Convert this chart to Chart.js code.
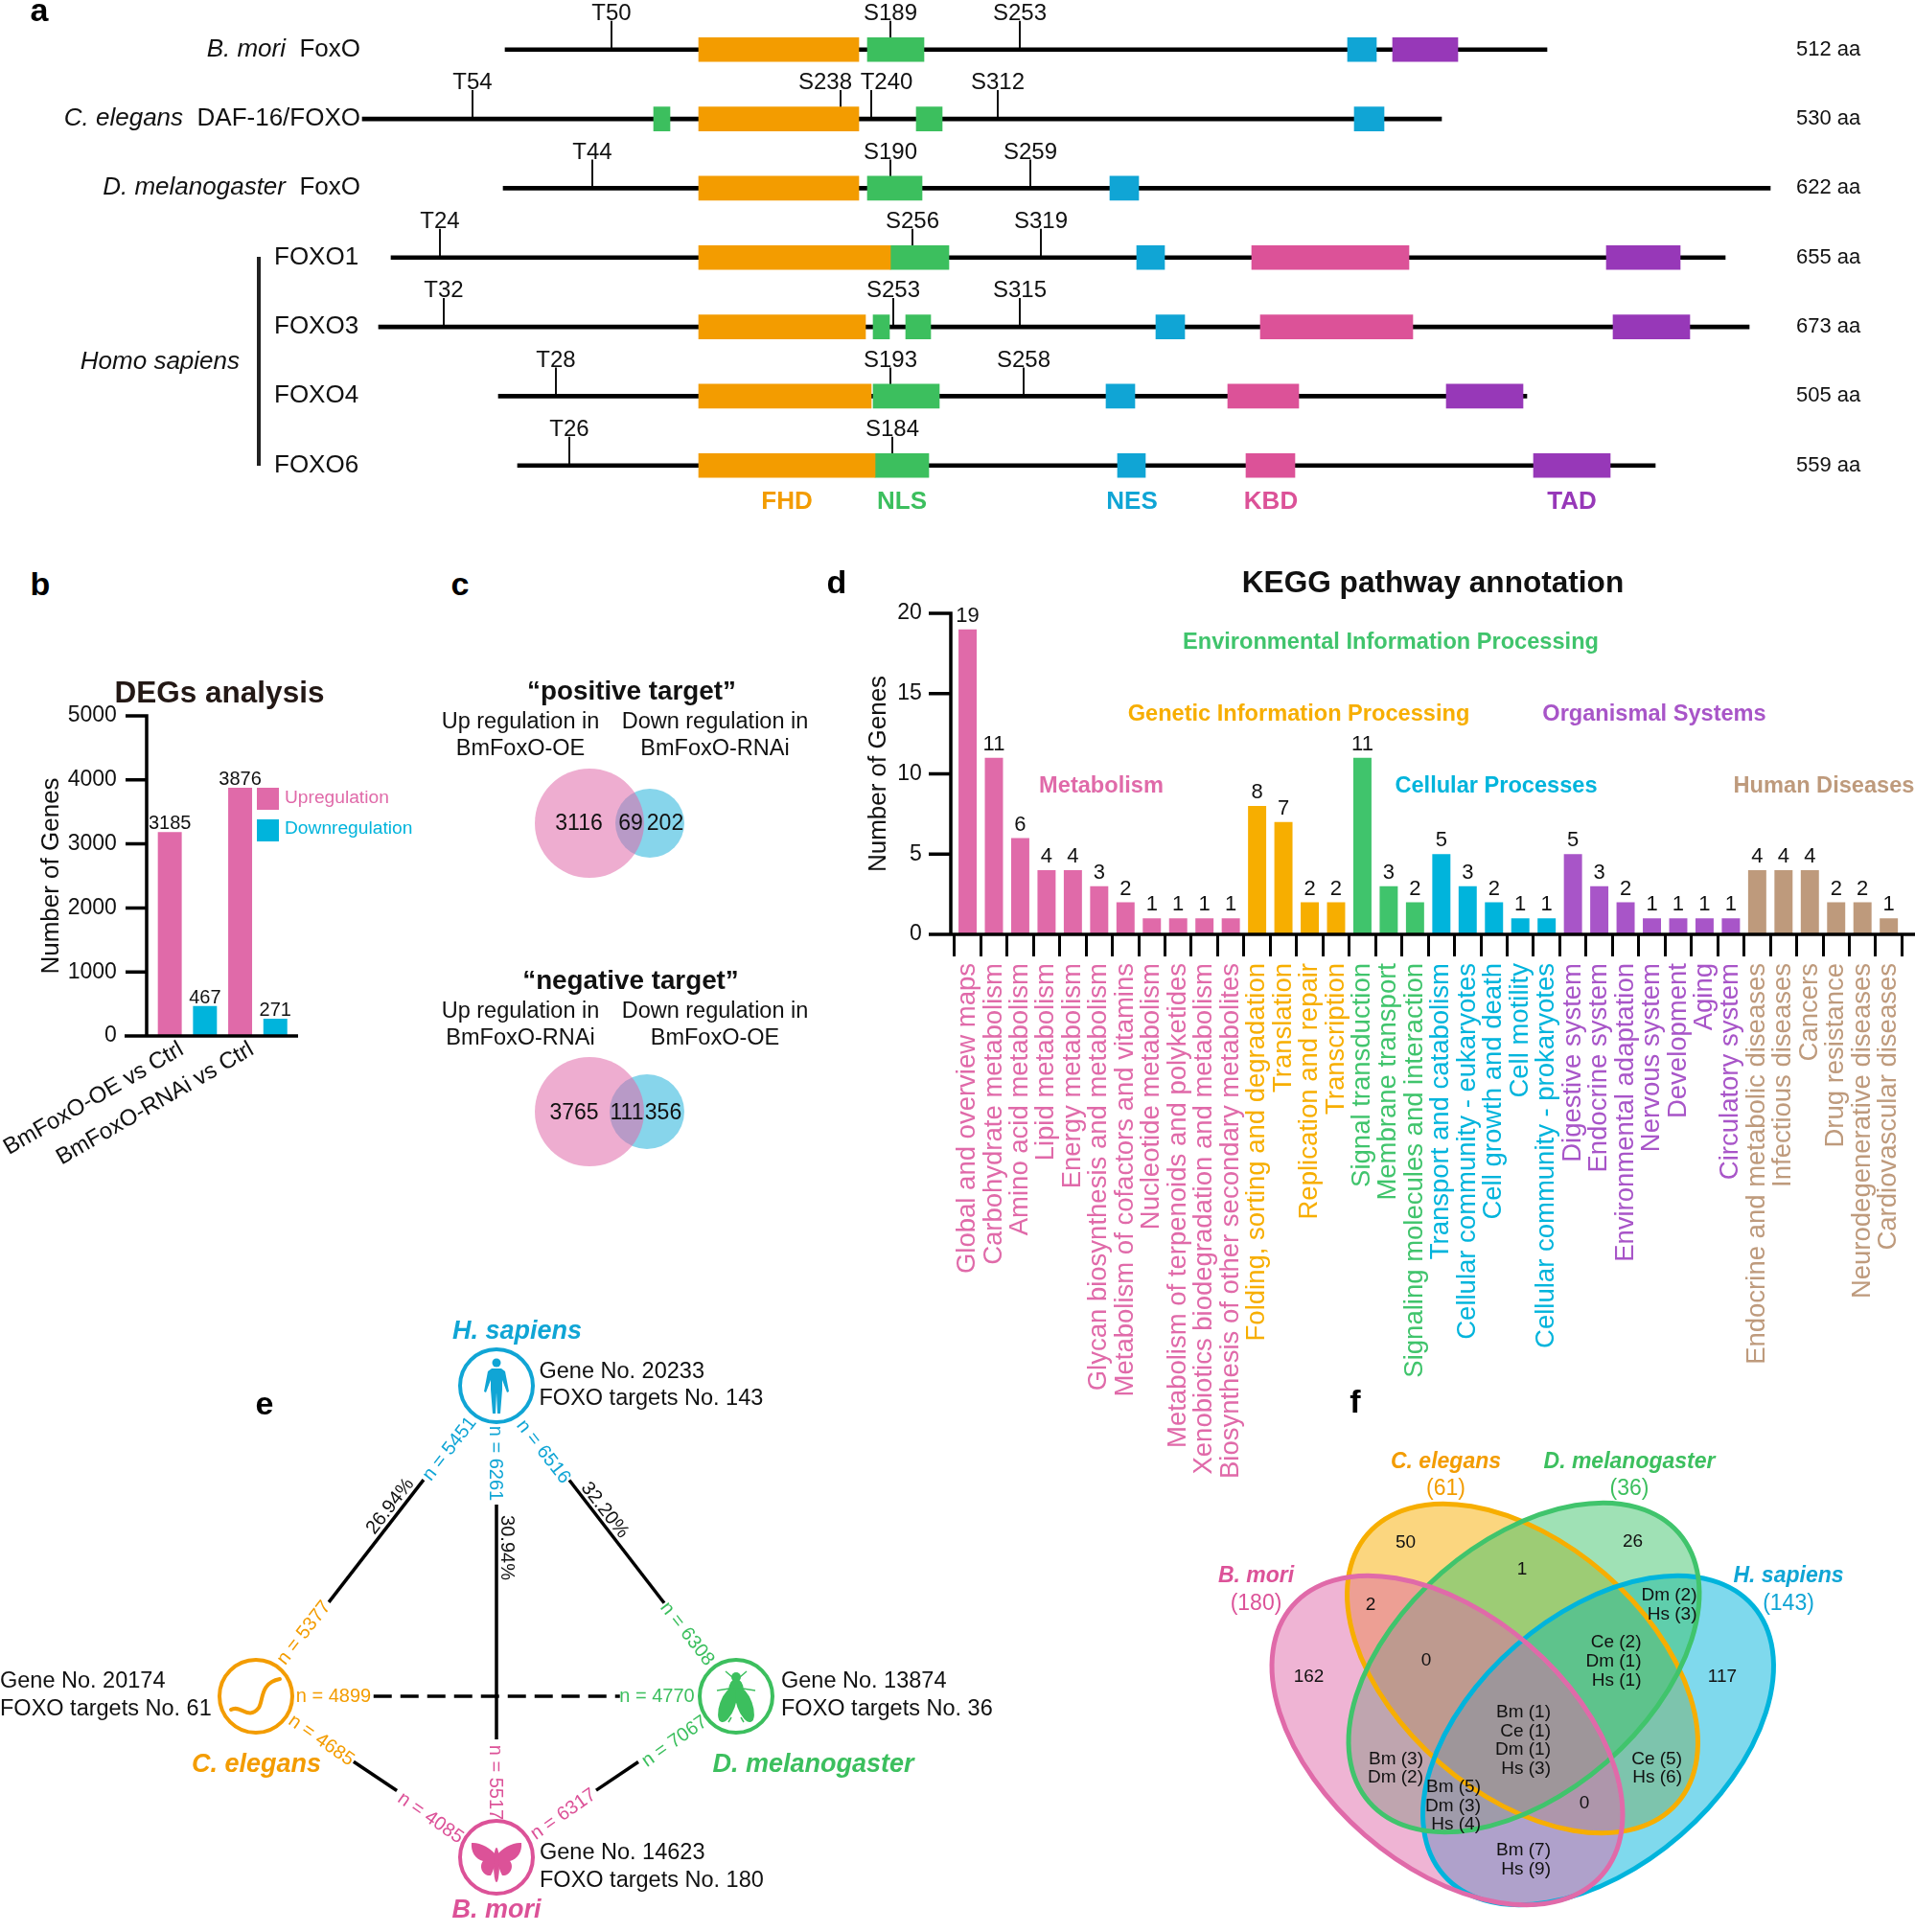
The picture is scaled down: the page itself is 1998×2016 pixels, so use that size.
<!DOCTYPE html>
<html>
<head>
<meta charset="utf-8">
<title>FoxO figure</title>
<script src="https://cdn.jsdelivr.net/npm/chart.js@4/dist/chart.umd.js"></script>
<style>
  html, body { margin: 0; padding: 0; background: #fff; }
  #page { position: relative; width: 1998px; height: 2016px; overflow: hidden; background: #fff; font-family: "Liberation Sans", Arial, sans-serif; }
  #page canvas { position: absolute; }
  .note { position: absolute; white-space: pre; line-height: 1; z-index: 5; color: #111; }
</style>
</head>
<body>
<div id="page"></div>
<script>
// colours
const PINK = '#E06AA9', ORANGE = '#F7AE00', GREEN = '#40C46C', CYAN = '#00B4DC', PURPLE = '#A855C8', TAN = '#BE9A7C';
const A_ORANGE = '#F39C00', A_GREEN = '#3CBF5E', A_BLUE = '#10A5D5', A_PINK = '#DC5298', A_PURPLE = '#9738B8';
const FONT = '"Liberation Sans", Arial, sans-serif';

// panel a - domain layout, in alignment position along the drawing
const proteins = ['B. mori', 'C. elegans', 'D. melanogaster', 'FOXO1', 'FOXO3', 'FOXO4', 'FOXO6'];
const lengthsAa = ['512 aa', '530 aa', '622 aa', '655 aa', '673 aa', '505 aa', '559 aa'];
const backbone = [[527, 1614], [378, 1504], [525, 1847], [408, 1800], [395, 1825], [520, 1593], [540, 1727]];
const fhd = [[729, 896], [729, 896], [729, 896], [729, 929], [729, 903], [729, 909], [729, 913]];
const nls = [[0, 905, 964], [1, 682, 699], [1, 956, 983], [2, 905, 962], [3, 929, 990], [4, 911, 928], [4, 945, 971], [5, 911, 980], [6, 913, 969]];
const nes = [[0, 1406, 1436], [1, 1413, 1444], [2, 1158, 1188], [3, 1186, 1215], [4, 1206, 1236], [5, 1154, 1184], [6, 1166, 1195]];
const kbd = [[3, 1306, 1470], [4, 1315, 1474], [5, 1281, 1355], [6, 1300, 1351]];
const tad = [[0, 1453, 1521], [3, 1676, 1753], [4, 1683, 1763], [5, 1509, 1589], [6, 1600, 1680]];
const sites = [
  [0, 'T50', 638, 0], [0, 'S189', 929, 0], [0, 'S253', 1064, 0],
  [1, 'T54', 493, 0], [1, 'S238', 877, -16], [1, 'T240', 909, 16], [1, 'S312', 1041, 0],
  [2, 'T44', 618, 0], [2, 'S190', 929, 0], [2, 'S259', 1075, 0],
  [3, 'T24', 459, 0], [3, 'S256', 952, 0], [3, 'S319', 1086, 0],
  [4, 'T32', 463, 0], [4, 'S253', 932, 0], [4, 'S315', 1064, 0],
  [5, 'T28', 580, 0], [5, 'S193', 929, 0], [5, 'S258', 1068, 0],
  [6, 'T26', 594, 0], [6, 'S184', 931, 0]
];

// panel b
const degGroups = ['BmFoxO-OE vs Ctrl', 'BmFoxO-RNAi vs Ctrl'];
const upregulated = [3185, 3876];
const downregulated = [467, 271];
const degTicks = [0, 1000, 2000, 3000, 4000, 5000];

// panel c
const vennTargets = [
  { x: 615, y: 859, r: 57, c: 'up' }, { x: 678, y: 859, r: 36, c: 'down' },
  { x: 615, y: 1160, r: 57, c: 'up' }, { x: 675, y: 1160, r: 39, c: 'down' }
];

// panel d
const keggNames = [
  'Global and overview maps', 'Carbohydrate metabolism', 'Amino acid metabolism', 'Lipid metabolism', 'Energy metabolism',
  'Glycan biosynthesis and metabolism', 'Metabolism of cofactors and vitamins', 'Nucleotide metabolism',
  'Metabolism of terpenoids and polyketides', 'Xenobiotics biodegradation and metabolism', 'Biosynthesis of other secondary metabolites',
  'Folding, sorting and degradation', 'Translation', 'Replication and repair', 'Transcription',
  'Signal transduction', 'Membrane transport', 'Signaling molecules and interaction',
  'Transport and catabolism', 'Cellular community - eukaryotes', 'Cell growth and death', 'Cell motility', 'Cellular community - prokaryotes',
  'Digestive system', 'Endocrine system', 'Environmental adaptation', 'Nervous system', 'Development', 'Aging', 'Circulatory system',
  'Endocrine and metabolic diseases', 'Infectious diseases', 'Cancers', 'Drug resistance', 'Neurodegenerative diseases', 'Cardiovascular diseases'
];
const keggCounts = [19, 11, 6, 4, 4, 3, 2, 1, 1, 1, 1, 8, 7, 2, 2, 11, 3, 2, 5, 3, 2, 1, 1, 5, 3, 2, 1, 1, 1, 1, 4, 4, 4, 2, 2, 1];
const keggGroupSizes = [11, 4, 3, 5, 7, 6];
const keggGroupColors = [PINK, ORANGE, GREEN, CYAN, PURPLE, TAN];

// panel e
const nodes = {
  hs: { x: 518, y: 1446, c: A_BLUE },
  ce: { x: 267, y: 1770, c: A_ORANGE },
  dm: { x: 768, y: 1770, c: A_GREEN },
  bm: { x: 518, y: 1938, c: A_PINK }
};
const edges = [
  ['hs', 'ce', 0.303, 0.697], ['hs', 'dm', 0.304, 0.70], ['hs', 'bm', 0.252, 0.75],
  ['ce', 'dm', 0.245, 0.758], ['ce', 'bm', 0.406, 0.586], ['dm', 'bm', 0.408, 0.584]
];

// panel f - ellipses: centre, half axes, tilt in degrees. listed bottom layer first
const vennSets = [
  { x: 1588.5, y: 1741, a: 214, b: 131, tilt: 41, c: ORANGE },
  { x: 1667.5, y: 1816, a: 214, b: 131, tilt: -41, c: CYAN },
  { x: 1590, y: 1740, a: 214, b: 131, tilt: -41, c: GREEN },
  { x: 1510, y: 1816, a: 214, b: 131, tilt: 41, c: PINK }
];

const page = document.getElementById('page');

function note(html, x, y, o) {
  o = o || {};
  const d = document.createElement('div');
  d.className = 'note';
  d.innerHTML = html;
  d.style.left = x + 'px';
  d.style.top = y + 'px';
  d.style.fontSize = (o.size || 23) + 'px';
  if (o.color) d.style.color = o.color;
  if (o.bold) d.style.fontWeight = 'bold';
  if (o.italic) d.style.fontStyle = 'italic';
  const tx = o.align === 'l' ? '0' : o.align === 'r' ? '-100%' : '-50%';
  d.style.transform = 'translate(' + tx + ',-50%)' + (o.rot ? ' rotate(' + o.rot + 'deg)' : '');
  if (o.rot) d.style.transformOrigin = '50% 50%';
  page.appendChild(d);
}

function addCanvas(left, top, w, h) {
  const c = document.createElement('canvas');
  c.width = w; c.height = h;
  c.style.left = left + 'px';
  c.style.top = top + 'px';
  c.style.width = w + 'px';
  c.style.height = h + 'px';
  page.appendChild(c);
  return c;
}

const base = { responsive: false, animation: false, devicePixelRatio: 1, events: [] };
const quiet = { legend: { display: false }, tooltip: { enabled: false }, title: { display: false } };

// fixed box for a scale, no extra room asked for by long labels
function fixBox(s, w, h) {
  if (w !== null) s.width = w;
  if (h !== null) s.height = h;
  s.paddingLeft = 0; s.paddingRight = 0; s.paddingTop = 0; s.paddingBottom = 0;
}

// axis lines sit a little off the plot area, so they are drawn here
function axisPlugin(cfg) {
  return {
    id: 'axisLines',
    afterDatasetsDraw(chart) {
      const { ctx, chartArea, scales } = chart;
      const ax = cfg.axisX - cfg.left, by = chartArea.bottom;
      ctx.save();
      ctx.strokeStyle = '#000';
      ctx.lineWidth = cfg.lw;
      ctx.beginPath();
      ctx.moveTo(ax, chartArea.top - cfg.lw / 2);
      ctx.lineTo(ax, by);
      ctx.moveTo(cfg.fromX - cfg.left, by);
      ctx.lineTo(cfg.toX - cfg.left, by);
      scales.y.ticks.forEach(t => {
        const y = scales.y.getPixelForValue(t.value);
        ctx.moveTo(ax - cfg.tick, y);
        ctx.lineTo(ax, y);
      });
      ctx.stroke();
      ctx.restore();
    }
  };
}

function valuePlugin(size, lift) {
  return {
    id: 'barValues',
    afterDatasetsDraw(chart) {
      const { ctx } = chart;
      ctx.save();
      ctx.font = size + 'px ' + FONT;
      ctx.fillStyle = '#111';
      ctx.textAlign = 'center';
      ctx.textBaseline = 'alphabetic';
      chart.data.datasets.forEach((ds, i) => {
        chart.getDatasetMeta(i).data.forEach((bar, j) => {
          ctx.fillText(ds.data[j], bar.x, bar.y - lift);
        });
      });
      ctx.restore();
    }
  };
}

// ---------- panel a ----------
const spanData = list => list.map(s => ({ x: [s[1], s[2]], y: proteins[s[0]] }));
const rowData = list => list.map((s, i) => ({ x: s, y: proteins[i] }));
const domainBar = (label, data, color) => ({ label, data, backgroundColor: color, barThickness: 25, grouped: false, order: 1, borderWidth: 0 });

new Chart(addCanvas(0, 0, 1998, 540), {
  type: 'bar',
  data: {
    labels: proteins,
    datasets: [
      { label: 'backbone', data: rowData(backbone), backgroundColor: '#000', barThickness: 4, grouped: false, order: 2 },
      domainBar('FHD', rowData(fhd), A_ORANGE),
      domainBar('NLS', spanData(nls), A_GREEN),
      domainBar('NES', spanData(nes), A_BLUE),
      domainBar('KBD', spanData(kbd), A_PINK),
      domainBar('TAD', spanData(tad), A_PURPLE)
    ]
  },
  options: {
    ...base,
    indexAxis: 'y',
    layout: { padding: { top: 15.6, bottom: 18.1 } },
    plugins: quiet,
    scales: {
      x: { display: false, type: 'linear', min: 0, max: 1998 },
      y: { display: false, type: 'category', stacked: false }
    }
  },
  plugins: [{
    id: 'phosphoSites',
    beforeDatasetsDraw(chart) {
      const { ctx, scales } = chart;
      ctx.save();
      ctx.font = '24px ' + FONT;
      ctx.textAlign = 'center';
      ctx.textBaseline = 'middle';
      ctx.fillStyle = '#111';
      ctx.strokeStyle = '#111';
      ctx.lineWidth = 2;
      sites.forEach(s => {
        const y = scales.y.getPixelForValue(s[0]);
        const x = scales.x.getPixelForValue(s[2]);
        ctx.beginPath();
        ctx.moveTo(x, y);
        ctx.lineTo(x, y - 30);
        ctx.stroke();
        ctx.fillText(s[1], x + s[3], y - 37.5);
      });
      ctx.restore();
    }
  }]
});

const rowY = [51.8, 123.6, 195.7, 268.6, 340.7, 413.2, 485.7];
note('<i>B. mori</i>  FoxO', 376, rowY[0] - 2, { size: 26, align: 'r' });
note('<i>C. elegans</i>  DAF-16/FOXO', 376, rowY[1] - 2, { size: 26, align: 'r' });
note('<i>D. melanogaster</i>  FoxO', 376, rowY[2] - 2, { size: 26, align: 'r' });
[3, 4, 5, 6].forEach(i => note(proteins[i], 286, rowY[i] - 2, { size: 26, align: 'l' }));
lengthsAa.forEach((t, i) => note(t, 1874, rowY[i] - 1, { size: 22, align: 'l' }));
note('Homo sapiens', 250, 376, { size: 26, italic: true, align: 'r' });
const homoBar = document.createElement('div');
homoBar.style.cssText = 'position:absolute;left:268px;top:268px;width:4px;height:218px;background:#222';
page.appendChild(homoBar);
[['FHD', 821, A_ORANGE], ['NLS', 941, A_GREEN], ['NES', 1181, A_BLUE], ['KBD', 1326, A_PINK], ['TAD', 1640, A_PURPLE]]
  .forEach(d => note(d[0], d[1], 522, { size: 26, bold: true, color: d[2] }));

// panel letters
[['a', 41, 10], ['b', 42, 609], ['c', 480, 609], ['d', 873, 607], ['e', 276, 1464], ['f', 1414, 1462]]
  .forEach(l => note(l[0], l[1], l[2], { size: 34, bold: true, color: '#000' }));

// ---------- panel b ----------
new Chart(addCanvas(0, 700, 360, 520), {
  type: 'bar',
  data: {
    labels: degGroups,
    datasets: [
      { label: 'Upregulation', data: upregulated, backgroundColor: PINK },
      { label: 'Downregulation', data: downregulated, backgroundColor: CYAN }
    ]
  },
  options: {
    ...base,
    layout: { padding: { top: 47, right: 54.4 } },
    plugins: quiet,
    datasets: { bar: { categoryPercentage: 1, barPercentage: 0.68 } },
    scales: {
      x: {
        afterFit(s) { fixBox(s, null, 139); },
        grid: { display: false, drawTicks: false },
        border: { display: false },
        ticks: { autoSkip: false, minRotation: 30, maxRotation: 30, padding: 0, labelOffset: -6, color: '#111', font: { size: 24, family: FONT } }
      },
      y: {
        afterFit(s) { fixBox(s, 158.8, null); },
        min: 0, max: 5000,
        afterBuildTicks(s) { s.ticks = degTicks.map(v => ({ value: v })); },
        grid: { display: false, drawTicks: false },
        border: { display: false },
        title: { display: true, text: 'Number of Genes', color: '#111', font: { size: 26, family: FONT }, padding: { top: 38, bottom: 0 } },
        ticks: { padding: 37, color: '#111', font: { size: 23, family: FONT }, callback: v => String(v) }
      }
    }
  },
  plugins: [axisPlugin({ left: 0, axisX: 153, fromX: 130, toX: 311, lw: 3.5, tick: 22 }), valuePlugin(20, 3)]
});
note('DEGs analysis', 229, 723, { size: 31.5, bold: true, color: '#231815' });
const legendBox = (top, color) => {
  const d = document.createElement('div');
  d.style.cssText = 'position:absolute;left:268px;width:23px;height:23px;top:' + top + 'px;background:' + color;
  page.appendChild(d);
};
legendBox(822, PINK); legendBox(855, CYAN);
note('Upregulation', 297, 832, { size: 19.2, align: 'l', color: PINK });
note('Downregulation', 297, 864, { size: 19.2, align: 'l', color: CYAN });

// ---------- panel c ----------
const cx0 = 480, cy0 = 780;
new Chart(addCanvas(cx0, cy0, 300, 460), {
  type: 'bubble',
  data: {
    datasets: [
      { label: 'up', data: vennTargets.filter(v => v.c === 'up'), backgroundColor: 'rgba(224,106,169,0.55)', borderWidth: 0 },
      { label: 'down', data: vennTargets.filter(v => v.c === 'down'), backgroundColor: 'rgba(0,165,213,0.47)', borderWidth: 0 }
    ]
  },
  options: {
    ...base,
    layout: { autoPadding: false },
    plugins: quiet,
    scales: {
      x: { display: false, type: 'linear', min: cx0, max: cx0 + 300 },
      y: { display: false, type: 'linear', min: cy0, max: cy0 + 460, reverse: true }
    }
  }
});
note('“positive target”', 659, 721, { size: 27.8, bold: true, color: '#111' });
note('“negative target”', 658, 1023, { size: 27.8, bold: true, color: '#111' });
[['Up regulation in', 543, 753], ['BmFoxO-OE', 543, 781], ['Down regulation in', 746, 753], ['BmFoxO-RNAi', 746, 781],
 ['Up regulation in', 543, 1055], ['BmFoxO-RNAi', 543, 1083], ['Down regulation in', 746, 1055], ['BmFoxO-OE', 746, 1083]]
  .forEach(t => note(t[0], t[1], t[2], { size: 23.5 }));
[['3116', 604, 858], ['69', 658, 858], ['202', 694, 858], ['3765', 599, 1160], ['111', 654, 1160], ['356', 692, 1160]]
  .forEach(t => note(t[0], t[1], t[2], { size: 23 }));

// ---------- panel d ----------
const keggColors = [];
keggGroupSizes.forEach((n, g) => { for (let i = 0; i < n; i++) keggColors.push(keggGroupColors[g]); });

new Chart(addCanvas(860, 560, 1138, 1000), {
  type: 'bar',
  data: {
    labels: keggNames,
    datasets: [{ label: 'Number of Genes', data: keggCounts, backgroundColor: keggColors, categoryPercentage: 1, barPercentage: 0.69 }]
  },
  options: {
    ...base,
    layout: { padding: { top: 80, right: 13.6 } },
    plugins: quiet,
    scales: {
      x: {
        afterFit(s) { fixBox(s, null, 585); },
        border: { display: false },
        grid: { drawOnChartArea: false, tickLength: 23, tickWidth: 3, tickColor: '#000' },
        ticks: {
          autoSkip: false, minRotation: 90, maxRotation: 90, padding: 7,
          color: c => keggColors[c.index],
          font: { size: 27.5, family: FONT }
        }
      },
      y: {
        afterFit(s) { fixBox(s, 135.8, null); },
        min: 0, max: 20,
        ticks: { stepSize: 5, padding: 34, color: '#111', font: { size: 23, family: FONT } },
        grid: { display: false, drawTicks: false },
        border: { display: false },
        title: { display: true, text: 'Number of Genes', color: '#111', font: { size: 26, family: FONT }, padding: { top: 41, bottom: 0 } }
      }
    }
  },
  plugins: [axisPlugin({ left: 860, axisX: 992, fromX: 970, toX: 1998, lw: 3.5, tick: 23 }), valuePlugin(22, 8)]
});
note('KEGG pathway annotation', 1495, 608, { size: 31.6, bold: true, color: '#111' });
[['Environmental Information Processing', 1451, 670, GREEN], ['Genetic Information Processing', 1355, 745, ORANGE],
 ['Organismal Systems', 1726, 745, PURPLE], ['Metabolism', 1149, 820, PINK], ['Cellular Processes', 1561, 820, CYAN],
 ['Human Diseases', 1903, 820, TAN]]
  .forEach(t => note(t[0], t[1], t[2], { size: 23.6, bold: true, color: t[3] }));

// ---------- panel e ----------
const ex0 = 0, ey0 = 1360;
const edgeSets = edges.map(e => {
  const a = nodes[e[0]], b = nodes[e[1]];
  const at = t => ({ x: a.x + (b.x - a.x) * t, y: a.y + (b.y - a.y) * t });
  return {
    type: 'scatter', showLine: true, pointRadius: 0, borderColor: '#000', borderWidth: 3.5,
    borderDash: e[0] === 'ce' && e[1] === 'dm' ? [19, 9] : [],
    data: [at(e[2]), at(e[3])]
  };
});
const nodeSets = Object.keys(nodes).map(k => ({
  type: 'scatter', data: [{ x: nodes[k].x, y: nodes[k].y }], pointRadius: 38, pointBorderWidth: 4,
  pointBorderColor: nodes[k].c, pointBackgroundColor: 'rgba(255,255,255,0)'
}));

function drawHuman(ctx, x, y) {
  ctx.beginPath(); ctx.arc(x, y - 24, 4.5, 0, Math.PI * 2); ctx.fill();
  ctx.beginPath();
  ctx.moveTo(x - 5, y - 18); ctx.lineTo(x + 5, y - 18); ctx.lineTo(x + 9, y - 15); ctx.lineTo(x + 13, y + 6);
  ctx.lineTo(x + 11, y + 7); ctx.lineTo(x + 6, y - 6); ctx.lineTo(x + 6, y + 4); ctx.lineTo(x + 4, y + 29);
  ctx.lineTo(x + 1, y + 29); ctx.lineTo(x, y + 7); ctx.lineTo(x - 1, y + 29); ctx.lineTo(x - 4, y + 29);
  ctx.lineTo(x - 6, y + 4); ctx.lineTo(x - 6, y - 6); ctx.lineTo(x - 11, y + 7); ctx.lineTo(x - 13, y + 6);
  ctx.lineTo(x - 9, y - 15); ctx.closePath(); ctx.fill();
}
function drawWorm(ctx, x, y) {
  ctx.lineWidth = 4; ctx.lineCap = 'round';
  ctx.beginPath();
  ctx.moveTo(x - 26, y + 14);
  ctx.bezierCurveTo(x - 16, y + 8, x - 8, y + 26, x + 3, y + 12);
  ctx.bezierCurveTo(x + 8, y + 4, x + 4, y - 14, x + 25, y - 18);
  ctx.stroke();
}
function drawFly(ctx, x, y) {
  ctx.beginPath(); ctx.arc(x, y - 20, 5, 0, Math.PI * 2); ctx.fill();
  ctx.beginPath(); ctx.ellipse(x, y - 6, 8, 12, 0, 0, Math.PI * 2); ctx.fill();
  ctx.beginPath(); ctx.ellipse(x - 9, y + 9, 8, 19, 0.35, 0, Math.PI * 2); ctx.fill();
  ctx.beginPath(); ctx.ellipse(x + 9, y + 9, 8, 19, -0.35, 0, Math.PI * 2); ctx.fill();
  ctx.lineWidth = 1.5;
  ctx.beginPath();
  ctx.moveTo(x - 4, y - 20); ctx.lineTo(x - 11, y - 26); ctx.moveTo(x + 4, y - 20); ctx.lineTo(x + 11, y - 26);
  ctx.moveTo(x - 7, y - 8); ctx.lineTo(x - 20, y - 6); ctx.moveTo(x + 7, y - 8); ctx.lineTo(x + 20, y - 6);
  ctx.moveTo(x - 5, y + 22); ctx.lineTo(x - 8, y + 27); ctx.moveTo(x + 5, y + 22); ctx.lineTo(x + 8, y + 27);
  ctx.stroke();
}
function drawMoth(ctx, x, y) {
  const wing = s => {
    ctx.beginPath();
    ctx.moveTo(x, y - 2);
    ctx.bezierCurveTo(x + s * 6, y - 10, x + s * 18, y - 16, x + s * 26, y - 15);
    ctx.bezierCurveTo(x + s * 27, y - 6, x + s * 22, y + 2, x + s * 14, y + 4);
    ctx.bezierCurveTo(x + s * 19, y + 10, x + s * 14, y + 20, x + s * 6, y + 19);
    ctx.bezierCurveTo(x + s * 3, y + 14, x + s * 2, y + 8, x, y + 2);
    ctx.closePath();
    ctx.fill();
  };
  wing(-1); wing(1);
  ctx.beginPath(); ctx.ellipse(x, y + 8, 3, 18, 0, 0, Math.PI * 2); ctx.fill();
}

new Chart(addCanvas(ex0, ey0, 1060, 656), {
  type: 'scatter',
  data: { datasets: edgeSets.concat(nodeSets) },
  options: {
    ...base,
    layout: { autoPadding: false },
    plugins: quiet,
    scales: {
      x: { display: false, type: 'linear', min: ex0, max: ex0 + 1060 },
      y: { display: false, type: 'linear', min: ey0, max: ey0 + 656, reverse: true }
    }
  },
  plugins: [{
    id: 'speciesIcons',
    afterDatasetsDraw(chart) {
      const { ctx, scales } = chart;
      const at = n => [scales.x.getPixelForValue(n.x), scales.y.getPixelForValue(n.y)];
      const paint = (n, fn) => {
        ctx.save();
        ctx.fillStyle = n.c; ctx.strokeStyle = n.c;
        const p = at(n);
        fn(ctx, p[0], p[1]);
        ctx.restore();
      };
      paint(nodes.hs, drawHuman);
      paint(nodes.ce, drawWorm);
      paint(nodes.dm, drawFly);
      paint(nodes.bm, drawMoth);
    }
  }]
});

const edgeLabels = [
  ['n = 5451', 468, 1511, -52, A_BLUE], ['26.94%', 406, 1571, -52, '#111'], ['n = 5377', 316, 1703, -52, A_ORANGE],
  ['n = 6516', 568, 1514, 52, A_BLUE], ['32.20%', 632, 1575, 52, '#111'], ['n = 6308', 718, 1704, 52, A_GREEN],
  ['n = 6261', 518, 1527, 90, A_BLUE], ['30.94%', 529.5, 1615, 90, '#111'], ['n = 5517', 518, 1860, 90, A_PINK],
  ['n = 4899', 348, 1769, 0, A_ORANGE], ['n = 4770', 685.5, 1769, 0, A_GREEN],
  ['n = 4685', 336, 1815, 35, A_ORANGE], ['n = 4085', 450, 1895.5, 35, A_PINK],
  ['n = 6317', 587, 1892, -35, A_PINK], ['n = 7067', 703, 1816, -35, A_GREEN]
];
edgeLabels.forEach(t => note(t[0], t[1], t[2], { size: 20, rot: t[3], color: t[4] }));
[['Gene No. 20233', 'FOXO targets No. 143', 562.5, 1431, 1459], ['Gene No. 20174', 'FOXO targets No. 61', 0, 1754, 1782.5],
 ['Gene No. 13874', 'FOXO targets No. 36', 815, 1754, 1782.5], ['Gene No. 14623', 'FOXO targets No. 180', 563, 1933, 1961.5]]
  .forEach(t => { note(t[0], t[2], t[3], { size: 23.5, align: 'l' }); note(t[1], t[2], t[4], { size: 23.5, align: 'l' }); });
[['H. sapiens', 539.5, 1387.5, A_BLUE], ['C. elegans', 267.5, 1840, A_ORANGE], ['D. melanogaster', 848.5, 1840, A_GREEN], ['B. mori', 518, 1992, A_PINK]]
  .forEach(t => note(t[0], t[1], t[2], { size: 27, bold: true, italic: true, color: t[3] }));

// ---------- panel f ----------
const fx0 = 1300, fy0 = 1540;
new Chart(addCanvas(fx0, fy0, 698, 476), {
  type: 'scatter',
  data: { datasets: [{ label: 'sets', data: vennSets.map(s => ({ x: s.x, y: s.y })), pointRadius: 0 }] },
  options: {
    ...base,
    layout: { autoPadding: false },
    plugins: quiet,
    scales: {
      x: { display: false, type: 'linear', min: fx0, max: fx0 + 698 },
      y: { display: false, type: 'linear', min: fy0, max: fy0 + 476, reverse: true }
    }
  },
  plugins: [{
    id: 'vennEllipses',
    afterDatasetsDraw(chart) {
      const { ctx, scales } = chart;
      const trace = s => {
        ctx.beginPath();
        ctx.ellipse(scales.x.getPixelForValue(s.x), scales.y.getPixelForValue(s.y), s.a, s.b, s.tilt * Math.PI / 180, 0, Math.PI * 2);
      };
      ctx.save();
      vennSets.forEach(s => {
        trace(s);
        ctx.globalAlpha = 0.5;
        ctx.fillStyle = s.c;
        ctx.fill();
      });
      ctx.globalAlpha = 1;
      ctx.lineWidth = 5;
      vennSets.forEach(s => {
        trace(s);
        ctx.strokeStyle = s.c;
        ctx.stroke();
      });
      ctx.restore();
    }
  }]
});
[['C. elegans', '(61)', 1508.5, 1524, 1552, A_ORANGE], ['D. melanogaster', '(36)', 1700, 1524, 1552, A_GREEN],
 ['B. mori', '(180)', 1310.5, 1643, 1672, A_PINK], ['H. sapiens', '(143)', 1866, 1643, 1672, A_BLUE]]
  .forEach(t => {
    note(t[0], t[2], t[3], { size: 23, bold: true, italic: true, color: t[5] });
    note(t[1], t[2], t[4], { size: 23, color: t[5] });
  });
[['50', 1466.5, 1608], ['26', 1703.5, 1606.5], ['1', 1588, 1635.5], ['2', 1430, 1673], ['0', 1488, 1731],
 ['162', 1365.5, 1748], ['117', 1797, 1748], ['0', 1653, 1880]]
  .forEach(t => note(t[0], t[1], t[2], { size: 19 }));
[['Dm (2)', 1770.5, 1663], ['Hs (3)', 1770.5, 1683],
 ['Ce (2)', 1712.5, 1712], ['Dm (1)', 1712.5, 1732], ['Hs (1)', 1712.5, 1752],
 ['Bm (1)', 1618, 1784.5], ['Ce (1)', 1618, 1804.5], ['Dm (1)', 1618, 1823.5], ['Hs (3)', 1618, 1843.5],
 ['Bm (3)', 1485, 1833.5], ['Dm (2)', 1485, 1852.5], ['Ce (5)', 1755, 1833.5], ['Hs (6)', 1755, 1852.5],
 ['Bm (5)', 1545, 1863], ['Dm (3)', 1545, 1882.5], ['Hs (4)', 1545, 1902],
 ['Bm (7)', 1618, 1928.5], ['Hs (9)', 1618, 1949]]
  .forEach(t => note(t[0], t[1], t[2], { size: 19, align: 'r' }));
</script>
</body>
</html>
